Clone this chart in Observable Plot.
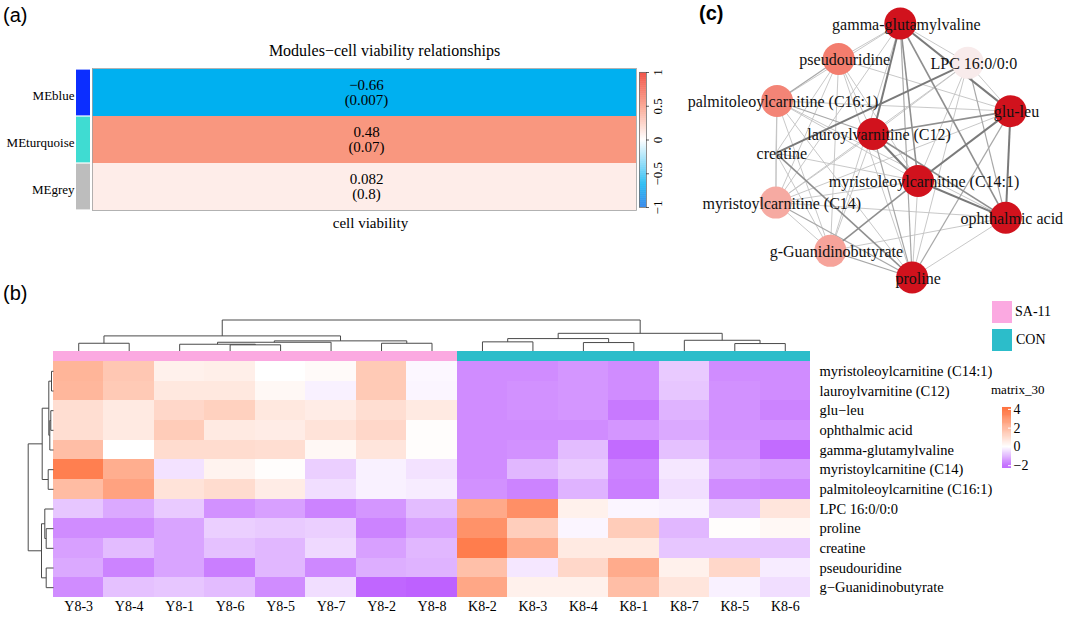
<!DOCTYPE html>
<html><head><meta charset="utf-8">
<script src="https://cdn.jsdelivr.net/npm/d3@7"></script>
<script src="https://cdn.jsdelivr.net/npm/@observablehq/plot@0.6"></script>
<style>
body{margin:0;background:#fff;}
#root{position:relative;width:1065px;height:618px;overflow:hidden;background:#fff;font-family:"Liberation Serif","Times New Roman",serif;color:#000;}
.tag{position:absolute;font-family:"Liberation Sans",Arial,sans-serif;font-size:20px;line-height:20px;}
.lg{position:absolute;font-size:14px;line-height:14px;}
.sw{position:absolute;}
</style></head><body><div id="root"></div>
<script>
// ================= DATA =================
// (a) module–trait relationship
const modules = ["MEblue", "MEturquoise", "MEgrey"];
const moduleCor = [-0.66, 0.48, 0.082];
const modulePval = [0.007, 0.07, 0.8];
const traitName = "cell viability";
const aTitle = "Modules\u2212cell viability relationships";
const aTicks = [-1, -0.5, 0, 0.5, 1];

// (b) clustered heatmap
const sampleNames = ["Y8-3","Y8-4","Y8-1","Y8-6","Y8-5","Y8-7","Y8-2","Y8-8","K8-2","K8-3","K8-4","K8-1","K8-7","K8-5","K8-6"];
const sampleGroups = ["SA-11","SA-11","SA-11","SA-11","SA-11","SA-11","SA-11","SA-11","CON","CON","CON","CON","CON","CON","CON"];
const groupNames = ["SA-11", "CON"];
const metabolites = ["myristoleoylcarnitine (C14:1)","lauroylvarnitine (C12)","glu\u2212leu","ophthalmic acid","gamma-glutamylvaline","myristoylcarnitine (C14)","palmitoleoylcarnitine (C16:1)","LPC 16:0/0:0","proline","creatine","pseudouridine","g\u2212Guanidinobutyrate"];
const matrix30 = [
  [1.6, 1.2, 0.3, 0.35, 0.0, 0.1, 1.15, -0.08, -1.2, -1.2, -1.1, -1.2, -0.55, -1.2, -1.2],
  [1.55, 1.15, 0.5, 0.5, 0.15, -0.15, 1.15, -0.1, -1.2, -1.15, -1.1, -1.2, -0.6, -1.15, -1.2],
  [0.7, 0.45, 0.85, 1.0, 0.5, 0.4, 0.7, 0.45, -1.2, -1.15, -1.1, -1.4, -0.8, -1.15, -1.3],
  [0.7, 0.45, 1.1, 0.45, 0.4, 0.6, 0.85, 0.05, -1.2, -1.2, -1.2, -1.1, -0.9, -1.15, -1.15],
  [1.4, 0.0, 0.75, 0.75, 0.7, 0.15, 0.55, 0.05, -1.2, -1.15, -0.7, -1.55, -0.65, -1.1, -1.55],
  [2.75, 1.75, -0.3, 0.25, 0.05, -0.5, -0.15, -0.3, -1.2, -0.75, -0.55, -1.3, -0.25, -0.9, -1.0],
  [1.45, 2.0, 0.6, 0.75, 0.4, -0.35, -0.15, -0.2, -1.15, -1.3, -0.8, -1.35, -0.35, -1.2, -1.25],
  [-0.6, -0.9, -0.55, -1.15, -1.0, -1.3, -1.1, -0.7, 1.85, 2.4, 0.3, -0.1, -0.15, -0.6, 0.55],
  [-1.2, -1.2, -0.95, -0.5, -0.55, -0.5, -1.3, -1.0, 2.35, 1.05, -0.1, 1.1, -0.75, 0.05, 0.15],
  [-1.0, -0.7, -0.95, -0.65, -0.75, -0.4, -1.0, -0.75, 2.8, 1.8, 0.45, 0.45, -0.6, -0.6, -0.6],
  [-0.9, -1.3, -0.95, -1.35, -0.75, -1.25, -0.85, -0.8, 1.35, -0.25, 0.85, 1.8, 0.3, 0.85, -0.2],
  [-1.2, -0.65, -0.6, -0.7, -1.2, -0.35, -1.6, -1.65, 1.9, 0.3, 0.3, 1.4, 0.55, -0.15, -0.35]
];
// hclust-style merges: negative = leaf (1-based, display order), positive = earlier merge
const colMerge = [[-4,-5],[-3,1],[2,-6],[-7,-8],[3,4],[-1,-2],[6,5],[-9,-10],[-11,-12],[8,9],[-14,-15],[-13,11],[10,12],[7,13]];
const colHeight = [6.2, 6.8, 8.8, 7.8, 10.2, 7.8, 15.2, 9.2, 8.5, 12.5, 7.5, 10.8, 17.8, 31.2];
const rowMerge = [[-1,-2],[-3,-4],[2,-5],[1,3],[-6,-7],[4,5],[-9,-10],[-8,7],[-11,-12],[8,9],[6,10]];
const rowHeight = [2.0, 2.7, 3.7, 4.7, 5.3, 11.3, 7.3, 8.7, 7.3, 12.0, 25.3];
const heatTicks = [-2, 0, 2, 4];
const heatLegendTitle = "matrix_30";

// (c) correlation network
const nodeNames = ["gamma-glutamylvaline","pseudouridine","LPC 16:0/0:0","palmitoleoylcarnitine (C16:1)","glu-leu","lauroylvarnitine (C12)","creatine","myristoleoylcarnitine (C14:1)","myristoylcarnitine (C14)","ophthalmic acid","g-Guanidinobutyrate","proline"];
const nodeX = [0.07, -0.45, 0.64, -0.97, 1.0, -0.16, -0.98, 0.22, -0.98, 0.96, -0.52, 0.17];
const nodeY = [-1.0, -0.72, -0.69, -0.39, -0.31, -0.13, 0.02, 0.24, 0.41, 0.53, 0.79, 1.0];
const nodeScore = [1, 0.5, 0.05, 0.47, 1, 1, 0, 1, 0.3, 1, 0.33, 1];
const edges = [
  [0,4,2.5],[0,5,2.5],[0,7,2],[0,9,2],[0,11,1.5],[0,1,1],[0,3,1],[0,8,1],[0,10,1],[0,2,1],
  [4,5,2],[4,7,2.5],[4,9,2.5],[4,11,1.5],[4,3,1],[4,1,1],[4,2,1],[4,8,1],
  [5,7,2.5],[5,9,2],[5,11,1.5],[5,3,1.5],[5,1,1],[5,8,1],[5,10,1],
  [7,9,2.5],[7,11,1],[7,3,1],[7,1,1],[7,8,1],[7,10,2],[7,2,1],
  [9,11,1],[9,8,1],[9,10,1],[9,2,1.5],[9,3,1],
  [11,10,1.5],[11,8,1.5],[11,6,2],[11,1,1],[11,3,1],
  [2,6,2.5],[2,5,1],[2,8,1],[2,11,1],
  [1,3,1.5],[1,8,1],[1,10,1],[1,6,1],
  [3,8,1],[3,10,1],[3,6,1],
  [8,10,1],[8,6,1],[6,10,1],[6,7,1]
];

// ================= STYLE / SCALES =================
const serif = '"Liberation Serif","Times New Roman",serif';
const svgStyle = {background: "transparent", overflow: "visible", fontFamily: serif, maxWidth: "none"};
const aColor = {type: "linear", domain: [-1, -0.66, 0, 0.48, 1], range: ["#0b6fe6", "#00b0f0", "#ffffff", "#f9977f", "#ee2b1c"], interpolate: "rgb", clamp: true};
const heatColor = {type: "linear", domain: [-2, 0, 4], range: ["#b040ff", "#ffffff", "#ff4500"], interpolate: "rgb", clamp: true};
const stripColor = {MEblue: "#0c2eff", MEturquoise: "#3fdcd2", MEgrey: "#bdbdbd"};
const groupColor = {"SA-11": "#fba9e1", "CON": "#2cbdca"};
const nodeColor = {type: "linear", domain: [0, 0.05, 0.3, 0.5, 1], range: ["#ffffff", "#f8ebeb", "#f6aaa2", "#f37d6e", "#d1121d"], interpolate: "rgb"};
const edgeStyle = {1: ["#c2c2c2", 0.9], 1.5: ["#a8a8a8", 1.2], 2: ["#8f8f8f", 1.6], 2.5: ["#7a7a7a", 2.0]};
const minus = v => String(v).replace("-", "\u2212");

const root = document.getElementById("root");
function place(el, left, top) { el.style.position = "absolute"; el.style.left = left + "px"; el.style.top = top + "px"; root.appendChild(el); return el; }
function div(cls, text, left, top, extra) { const d = document.createElement("div"); d.className = cls; d.textContent = text; if (extra) Object.assign(d.style, extra); return place(d, left, top); }

// ================= PANEL (a) =================
const aData = modules.map((m, i) => ({name: m, r: moduleCor[i], p: modulePval[i]}));
const plotA = Plot.plot({
  width: 680, height: 240, marginLeft: 92, marginRight: 44, marginTop: 68, marginBottom: 30,
  x: {domain: [0, 1], axis: null},
  y: {domain: modules, axis: null, padding: 0},
  color: aColor,
  style: svgStyle,
  marks: [
    Plot.barX(aData, {x1: 0, x2: 1, y: "name", fill: "r"}),
    ...aData.map(d => Plot.barX([d], {x1: 0, x2: 0, y: "name", fill: stripColor[d.name], insetLeft: -16, insetRight: 2, insetTop: 0.6, insetBottom: 0.6})),
    Plot.frame({stroke: "#a0a0a0", strokeWidth: 0.8}),
    Plot.text(aData, {y: "name", text: d => `${minus(d.r)}\n(${d.p})`, frameAnchor: "middle", dx: 2, fontSize: 15, lineHeight: 1.0, fontFamily: serif}),
    Plot.text(aData, {y: "name", text: "name", frameAnchor: "left", textAnchor: "end", dx: -18, dy: 3, fontSize: 13, fontFamily: serif}),
    Plot.text([aTitle], {frameAnchor: "top", dy: -24, dx: 20, fontSize: 16, fontFamily: serif}),
    Plot.text([traitName], {frameAnchor: "bottom", dy: 17, dx: 6, fontSize: 15, fontFamily: serif})
  ]
});
place(plotA, 0, 0);

// colour bar for (a)
const aSteps = d3.range(-1, 1, 0.01);
const plotAbar = Plot.plot({
  width: 60, height: 160, marginLeft: 19, marginRight: 34, marginTop: 12, marginBottom: 13,
  y: {domain: [-1, 1], axis: null},
  color: aColor,
  style: svgStyle,
  marks: [
    Plot.rect(aSteps, {y1: d => d, y2: d => d + 0.0105, fill: d => d + 0.005}),
    Plot.frame({stroke: "#707070", strokeWidth: 0.8}),
    Plot.tickY(aTicks, {y: d => d, insetLeft: 7, insetRight: -3, stroke: "#333", strokeWidth: 0.8}),
    Plot.text(aTicks, {y: d => d, text: d => minus(d), frameAnchor: "right", textAnchor: "middle", dx: 11, rotate: -90, fontSize: 13, fontFamily: serif})
  ]
});
place(plotAbar, 620, 60);

// ================= PANEL (b) =================
const rowPx = 236 / 12, colPx = 757 / 15, annPx = 10.5, colDendroPx = 31, rowDendroPx = 25.3;
const cells = [];
matrix30.forEach((row, r) => row.forEach((v, c) => cells.push({r, c, v})));

function dendro(merge, heights) {
  const pos = [], hgt = [], segs = [];
  const P = k => k < 0 ? (-k - 1) + 0.5 : pos[k - 1];
  const H = k => k < 0 ? 0 : hgt[k - 1];
  merge.forEach(([a, b], i) => {
    const pa = P(a), pb = P(b), h = heights[i];
    segs.push({p1: pa, h1: H(a), p2: pa, h2: h});
    segs.push({p1: pb, h1: H(b), p2: pb, h2: h});
    segs.push({p1: pa, h1: h, p2: pb, h2: h});
    pos[i] = (pa + pb) / 2; hgt[i] = h;
  });
  return segs;
}
const kc = colDendroPx / d3.max(colHeight), kr = rowDendroPx / d3.max(rowHeight);
const colSegs = dendro(colMerge, colHeight).map(s => ({x1: s.p1, x2: s.p2, y1: -(annPx + s.h1 * kc) / rowPx, y2: -(annPx + s.h2 * kc) / rowPx}));
const rowSegs = dendro(rowMerge, rowHeight).map(s => ({y1: s.p1, y2: s.p2, x1: -(s.h1 * kr) / colPx, x2: -(s.h2 * kr) / colPx}));
const groupSpans = groupNames.map(g => {
  const idx = sampleGroups.map((s, i) => s === g ? i : -1).filter(i => i >= 0);
  return {g, start: d3.min(idx), end: d3.max(idx) + 1};
});

const plotB = Plot.plot({
  width: 1065, height: 338, marginLeft: 53, marginRight: 255, marginTop: 81, marginBottom: 21,
  x: {domain: [0, sampleNames.length], axis: null},
  y: {domain: [0, metabolites.length], reverse: true, axis: null},
  color: heatColor,
  style: svgStyle,
  marks: [
    Plot.rect(cells, {x1: "c", x2: d => d.c + 1, y1: "r", y2: d => d.r + 1, fill: "v", shapeRendering: "crispEdges"}),
    ...groupSpans.map(s => Plot.rect([s], {x1: "start", x2: "end", y1: 0, y2: 0, insetTop: -annPx, fill: groupColor[s.g], shapeRendering: "crispEdges"})),
    Plot.link(colSegs, {x1: "x1", y1: "y1", x2: "x2", y2: "y2", stroke: "#4a4a4a", strokeWidth: 1}),
    Plot.link(rowSegs, {x1: "x1", y1: "y1", x2: "x2", y2: "y2", stroke: "#4a4a4a", strokeWidth: 1}),
    Plot.text(sampleNames, {x: (d, i) => i + 0.5, text: d => d, frameAnchor: "bottom", dy: 13, fontSize: 14, fontFamily: serif}),
    Plot.text(metabolites, {y: (d, i) => i + 0.5, text: d => d, frameAnchor: "right", textAnchor: "start", dx: 9, fontSize: 14.5, fontFamily: serif})
  ]
});
place(plotB, 0, 280);

// group legend (b)
groupNames.forEach((g, i) => {
  const sw = document.createElement("div"); sw.className = "sw";
  Object.assign(sw.style, {width: "20px", height: "22px", background: groupColor[g]});
  place(sw, 992, 301 + i * 28);
  div("lg", g, 1015 + i, 305 + i * 28);
});
div("lg", heatLegendTitle, 991, 383, {fontSize: "13px", lineHeight: "13px"});

// colour bar (b)
const hSteps = d3.range(-2.3, 4.2, 0.05);
const plotBbar = Plot.plot({
  width: 50, height: 80, marginLeft: 12, marginRight: 29, marginTop: 7, marginBottom: 12,
  y: {domain: [-2.3, 4.2], axis: null},
  color: heatColor,
  style: svgStyle,
  marks: [
    Plot.rect(hSteps, {y1: d => d, y2: d => d + 0.052, fill: d => d + 0.025}),
    Plot.tickY(heatTicks, {y: d => d, insetLeft: 6, stroke: "white", strokeWidth: 1}),
    Plot.text(heatTicks, {y: d => d, text: d => minus(d), frameAnchor: "right", textAnchor: "start", dx: 2, fontSize: 14, fontFamily: serif})
  ]
});
place(plotBbar, 990, 400);

// ================= PANEL (c) =================
const nodes = nodeNames.map((name, i) => ({name, x: nodeX[i], y: nodeY[i], s: nodeScore[i]}));
const links = edges.map(([a, b, w]) => ({x1: nodeX[a], y1: nodeY[a], x2: nodeX[b], y2: nodeY[b], w}));
const weights = [1, 1.5, 2, 2.5];
const plotC = Plot.plot({
  width: 385, height: 300, marginLeft: 93, marginRight: 55, marginTop: 23, marginBottom: 23,
  x: {domain: [-1, 1], axis: null},
  y: {domain: [-1, 1], reverse: true, axis: null},
  color: nodeColor,
  style: svgStyle,
  marks: [
    ...weights.map(w => Plot.link(links.filter(l => l.w === w), {x1: "x1", y1: "y1", x2: "x2", y2: "y2", stroke: edgeStyle[w][0], strokeWidth: edgeStyle[w][1]})),
    Plot.dot(nodes.filter(n => n.s > 0), {x: "x", y: "y", r: 16, fill: "s", stroke: null}),
    Plot.text(nodes, {x: "x", y: "y", text: "name", dx: 6, dy: 1, fontSize: 16, fontFamily: serif, fill: "#111"})
  ]
});
place(plotC, 680, 0);

// panel tags
div("tag", "(a)", 3, 5);
div("tag", "(b)", 3, 283);
div("tag", "(c)", 699, 3, {fontWeight: "bold"});
</script></body></html>
